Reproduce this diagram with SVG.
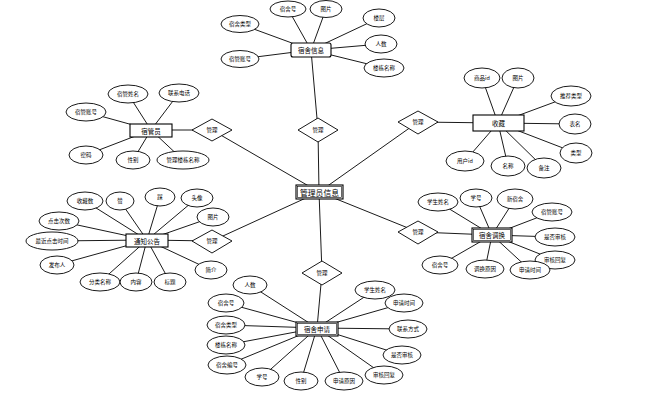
<svg xmlns="http://www.w3.org/2000/svg" width="662" height="403" viewBox="0 0 662 403">
<style>
.c line{stroke:#000;stroke-width:0.9}
ellipse{fill:#fff;stroke:#000;stroke-width:0.9}
.e{fill:#fff;stroke:#000;stroke-width:1.1}
.d{fill:#fff;stroke:#000;stroke-width:0.9}
text{font-family:"Noto Sans CJK SC","Liberation Sans",sans-serif;font-size:5.5px;text-anchor:middle;dominant-baseline:central;fill:#000}
.t{font-size:6.5px}
.m{font-size:7.8px}
</style>
<rect width="662" height="403" fill="#fff"/>
<g class="c" id="connectors">
<line x1="311" y1="50" x2="318" y2="130"/>
<line x1="318" y1="130" x2="319" y2="192"/>
<line x1="151" y1="130" x2="212" y2="130"/>
<line x1="212" y1="130" x2="319" y2="192"/>
<line x1="147" y1="240" x2="212" y2="241"/>
<line x1="212" y1="241" x2="319" y2="192"/>
<line x1="498" y1="123" x2="418" y2="122"/>
<line x1="418" y1="122" x2="319" y2="192"/>
<line x1="492" y1="235" x2="418" y2="232"/>
<line x1="418" y1="232" x2="319" y2="192"/>
<line x1="319" y1="192" x2="322" y2="273"/>
<line x1="322" y1="273" x2="317" y2="328"/>
<line x1="311" y1="50" x2="288" y2="9"/>
<line x1="311" y1="50" x2="326" y2="9"/>
<line x1="311" y1="50" x2="240" y2="24"/>
<line x1="311" y1="50" x2="240" y2="59"/>
<line x1="311" y1="50" x2="379" y2="18"/>
<line x1="311" y1="50" x2="381" y2="44"/>
<line x1="311" y1="50" x2="384" y2="68"/>
<line x1="151" y1="130" x2="128" y2="94"/>
<line x1="151" y1="130" x2="179" y2="93"/>
<line x1="151" y1="130" x2="86" y2="112"/>
<line x1="151" y1="130" x2="86" y2="155"/>
<line x1="151" y1="130" x2="133" y2="160"/>
<line x1="151" y1="130" x2="183" y2="160"/>
<line x1="147" y1="240" x2="85" y2="201"/>
<line x1="147" y1="240" x2="120" y2="201"/>
<line x1="147" y1="240" x2="160" y2="197"/>
<line x1="147" y1="240" x2="197" y2="198"/>
<line x1="147" y1="240" x2="213" y2="217"/>
<line x1="147" y1="240" x2="59" y2="221"/>
<line x1="147" y1="240" x2="52" y2="241"/>
<line x1="147" y1="240" x2="57" y2="265"/>
<line x1="147" y1="240" x2="100" y2="282"/>
<line x1="147" y1="240" x2="136" y2="282"/>
<line x1="147" y1="240" x2="170" y2="282"/>
<line x1="147" y1="240" x2="211" y2="270"/>
<line x1="498" y1="123" x2="482" y2="78"/>
<line x1="498" y1="123" x2="518" y2="78"/>
<line x1="498" y1="123" x2="571" y2="96"/>
<line x1="498" y1="123" x2="575" y2="124"/>
<line x1="498" y1="123" x2="576" y2="153"/>
<line x1="498" y1="123" x2="544" y2="168"/>
<line x1="498" y1="123" x2="508" y2="166"/>
<line x1="498" y1="123" x2="465" y2="161"/>
<line x1="492" y1="235" x2="438" y2="202"/>
<line x1="492" y1="235" x2="476" y2="198"/>
<line x1="492" y1="235" x2="515" y2="199"/>
<line x1="492" y1="235" x2="552" y2="212"/>
<line x1="492" y1="235" x2="555" y2="237"/>
<line x1="492" y1="235" x2="555" y2="260"/>
<line x1="492" y1="235" x2="530" y2="270"/>
<line x1="492" y1="235" x2="485" y2="269"/>
<line x1="492" y1="235" x2="440" y2="265"/>
<line x1="317" y1="328" x2="250" y2="285"/>
<line x1="317" y1="328" x2="226" y2="303"/>
<line x1="317" y1="328" x2="226" y2="325"/>
<line x1="317" y1="328" x2="226" y2="345"/>
<line x1="317" y1="328" x2="227" y2="365"/>
<line x1="317" y1="328" x2="262" y2="377"/>
<line x1="317" y1="328" x2="301" y2="381"/>
<line x1="317" y1="328" x2="344" y2="381"/>
<line x1="317" y1="328" x2="384" y2="375"/>
<line x1="317" y1="328" x2="402" y2="355"/>
<line x1="317" y1="328" x2="408" y2="329"/>
<line x1="317" y1="328" x2="404" y2="303"/>
<line x1="317" y1="328" x2="375" y2="290"/>
</g>

<g id="admin">
<rect class="e" x="296" y="185" width="47" height="14"/>
<rect x="297.5" y="186.5" width="44" height="11" fill="none" stroke="#000" stroke-width="0.6"/>
<text class="m" x="319.5" y="192.5">管理员信息</text>
</g>

<g id="dorm">
<rect class="e" x="291" y="43" width="40" height="14" rx="2"/>
<text class="t" x="311" y="50">宿舍信息</text>
<ellipse cx="288" cy="9" rx="18" ry="8"/><text x="288" y="9">宿舍号</text>
<ellipse cx="326" cy="9" rx="16" ry="8.5"/><text x="326" y="9">图片</text>
<ellipse cx="240" cy="24" rx="19" ry="8.5"/><text x="240" y="24">宿舍类型</text>
<ellipse cx="240" cy="59" rx="19" ry="8.5"/><text x="240" y="59">宿管账号</text>
<ellipse cx="379" cy="18" rx="16" ry="9"/><text x="379" y="18">楼层</text>
<ellipse cx="381" cy="44" rx="16" ry="9"/><text x="381" y="44">人数</text>
<ellipse cx="384" cy="68" rx="20" ry="9"/><text x="384" y="68">楼栋名称</text>
</g>
<g id="rel-dorm"><polygon class="d" points="318,118 338,130 318,142 298,130"/><text x="318" y="130">管理</text></g>

<g id="warden">
<rect class="e" x="130" y="124" width="42" height="13"/>
<text class="t" x="151" y="130.5">宿管员</text>
<ellipse cx="128" cy="94" rx="20" ry="9"/><text x="128" y="94">宿管姓名</text>
<ellipse cx="179" cy="93" rx="20" ry="9"/><text x="179" y="93">联系电话</text>
<ellipse cx="86" cy="112" rx="20" ry="9"/><text x="86" y="112">宿管账号</text>
<ellipse cx="86" cy="155" rx="17" ry="9"/><text x="86" y="155">密码</text>
<ellipse cx="133" cy="160" rx="17" ry="9"/><text x="133" y="160">性别</text>
<ellipse cx="183" cy="160" rx="26" ry="9"/><text x="183" y="160">管理楼栋名称</text>
</g>
<g id="rel-warden"><polygon class="d" points="212,119 232,130 212,141 192,130"/><text x="212" y="130">管理</text></g>

<g id="notice">
<rect class="e" x="126" y="234" width="42" height="13"/>
<text class="t" x="147" y="240.5">通知公告</text>
<ellipse cx="85" cy="201" rx="18" ry="9"/><text x="85" y="201">收藏数</text>
<ellipse cx="120" cy="201" rx="14" ry="9"/><text x="120" y="201">赞</text>
<ellipse cx="160" cy="197" rx="15" ry="9"/><text x="160" y="197">踩</text>
<ellipse cx="197" cy="198" rx="16" ry="9"/><text x="197" y="198">头像</text>
<ellipse cx="213" cy="217" rx="16" ry="9"/><text x="213" y="217">图片</text>
<ellipse cx="59" cy="221" rx="20" ry="9"/><text x="59" y="221">点击次数</text>
<ellipse cx="52" cy="241" rx="26" ry="9"/><text x="52" y="241">最近点击时间</text>
<ellipse cx="57" cy="265" rx="17" ry="9"/><text x="57" y="265">发布人</text>
<ellipse cx="100" cy="282" rx="20" ry="9"/><text x="100" y="282">分类名称</text>
<ellipse cx="136" cy="282" rx="16" ry="9"/><text x="136" y="282">内容</text>
<ellipse cx="170" cy="282" rx="16" ry="9"/><text x="170" y="282">标题</text>
<ellipse cx="211" cy="270" rx="16" ry="9"/><text x="211" y="270">简介</text>
</g>
<g id="rel-notice"><polygon class="d" points="212,230 232,241 212,253 192,241"/><text x="212" y="241">管理</text></g>

<g id="fav">
<rect class="e" x="473" y="115" width="51" height="16"/>
<text class="t" x="498.5" y="123">收藏</text>
<ellipse cx="482" cy="78" rx="18" ry="10"/><text x="482" y="78">商品id</text>
<ellipse cx="518" cy="78" rx="16" ry="10"/><text x="518" y="78">图片</text>
<ellipse cx="571" cy="96" rx="20" ry="10"/><text x="571" y="96">推荐类型</text>
<ellipse cx="575" cy="124" rx="16" ry="10"/><text x="575" y="124">表名</text>
<ellipse cx="576" cy="153" rx="16" ry="10"/><text x="576" y="153">类型</text>
<ellipse cx="544" cy="168" rx="17" ry="10"/><text x="544" y="168">备注</text>
<ellipse cx="508" cy="166" rx="17" ry="10"/><text x="508" y="166">名称</text>
<ellipse cx="465" cy="161" rx="19" ry="10"/><text x="465" y="161">用户id</text>
</g>
<g id="rel-fav"><polygon class="d" points="418,111 438,122 418,134 398,122"/><text x="418" y="122">管理</text></g>

<g id="swap">
<rect class="e" x="472" y="228" width="40" height="14"/>
<rect x="473.5" y="229.5" width="37" height="11" fill="none" stroke="#000" stroke-width="0.6"/>
<text class="t" x="492" y="235">宿舍调换</text>
<ellipse cx="438" cy="202" rx="20" ry="9"/><text x="438" y="202">学生姓名</text>
<ellipse cx="476" cy="198" rx="16" ry="9"/><text x="476" y="198">学号</text>
<ellipse cx="515" cy="199" rx="18" ry="10"/><text x="515" y="199">新宿舍</text>
<ellipse cx="552" cy="212" rx="20" ry="9"/><text x="552" y="212">宿管账号</text>
<ellipse cx="555" cy="237" rx="20" ry="9"/><text x="555" y="237">是否审核</text>
<ellipse cx="555" cy="260" rx="20" ry="9"/><text x="555" y="260">审核回复</text>
<ellipse cx="530" cy="270" rx="20" ry="9"/><text x="530" y="270">申请时间</text>
<ellipse cx="485" cy="269" rx="19" ry="9"/><text x="485" y="269">调换原因</text>
<ellipse cx="440" cy="265" rx="18" ry="9"/><text x="440" y="265">宿舍号</text>
</g>
<g id="rel-swap"><polygon class="d" points="418,221 438,232 418,244 398,232"/><text x="418" y="232">管理</text></g>

<g id="apply">
<rect class="e" x="296" y="322" width="42" height="14"/>
<rect x="297.5" y="323.5" width="39" height="11" fill="none" stroke="#000" stroke-width="0.6"/>
<text class="t" x="317" y="329">宿舍申请</text>
<ellipse cx="250" cy="285" rx="17" ry="9"/><text x="250" y="285">人数</text>
<ellipse cx="226" cy="303" rx="18" ry="9"/><text x="226" y="303">宿舍号</text>
<ellipse cx="226" cy="325" rx="19" ry="9"/><text x="226" y="325">宿舍类型</text>
<ellipse cx="226" cy="345" rx="19" ry="9"/><text x="226" y="345">楼栋名称</text>
<ellipse cx="227" cy="365" rx="19" ry="9"/><text x="227" y="365">宿舍编号</text>
<ellipse cx="262" cy="377" rx="17" ry="9"/><text x="262" y="377">学号</text>
<ellipse cx="301" cy="381" rx="17" ry="9"/><text x="301" y="381">性别</text>
<ellipse cx="344" cy="381" rx="19" ry="9"/><text x="344" y="381">申请原因</text>
<ellipse cx="384" cy="375" rx="19" ry="9"/><text x="384" y="375">审核回复</text>
<ellipse cx="402" cy="355" rx="19" ry="9"/><text x="402" y="355">是否审核</text>
<ellipse cx="408" cy="329" rx="19" ry="9"/><text x="408" y="329">联系方式</text>
<ellipse cx="404" cy="303" rx="19" ry="9"/><text x="404" y="303">申请时间</text>
<ellipse cx="375" cy="290" rx="20" ry="9"/><text x="375" y="290">学生姓名</text>
</g>
<g id="rel-apply"><polygon class="d" points="322,261 342,273 322,285 302,273"/><text x="322" y="273">管理</text></g>
</svg>
